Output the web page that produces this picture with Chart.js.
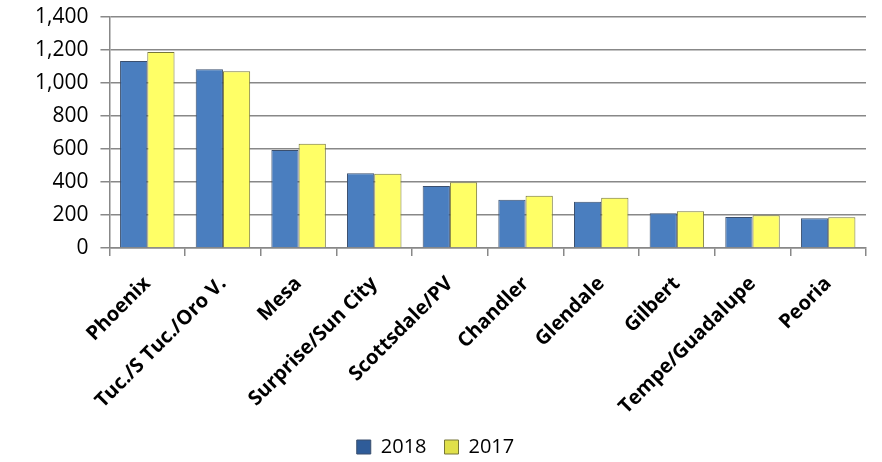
<!DOCTYPE html>
<html>
<head>
<meta charset="utf-8">
<script src="https://cdn.jsdelivr.net/npm/chart.js@4.4.0/dist/chart.umd.min.js"></script>
<style>
  html, body { margin: 0; padding: 0; background: #fff; }
  #wrap { width: 882px; height: 462px; }
</style>
</head>
<body>
<div id="wrap"><canvas id="cities-chart"></canvas></div>
<script>
var categories = ['Phoenix', 'Tuc./S Tuc./Oro V.', 'Mesa', 'Surprise/Sun City', 'Scottsdale/PV',
    'Chandler', 'Glendale', 'Gilbert', 'Tempe/Guadalupe', 'Peoria'];
var values2018 = [1133, 1083, 594, 453, 376, 293, 281, 210, 188, 180];
var values2017 = [1188, 1071, 632, 450, 398, 317, 305, 222, 198, 186];
var yTicks = [0, 200, 400, 600, 800, 1000, 1200, 1400];

function barFill(light, mid, dark) {
    return function (context) {
        var el = context.element;
        var chart = context.chart;
        if (!el || !el.width) {
            return mid;
        }
        var x0 = el.x - el.width / 2;
        var g = chart.ctx.createLinearGradient(x0, 0, x0 + el.width, 0);
        g.addColorStop(0, dark);
        g.addColorStop(0.3, mid);
        g.addColorStop(0.65, light);
        g.addColorStop(1, dark);
        return g;
    };
}

// nudge the legend a little left, like the original
var legendShift = {
    id: 'legendShift',
    afterLayout: function (chart) {
        if (chart.legend) {
            chart.legend.left -= 9;
            chart.legend.right -= 9;
        }
    }
};

var ctx = document.getElementById('cities-chart');
var CitiesChart = new Chart(ctx, {
    type: 'bar',
    data: {
        labels: categories,
        datasets: [{
            label: '2018',
            data: values2018,
            backgroundColor: barFill('#5d93d4', '#4a7ebf', '#2f5c99'),
            borderColor: '#3a4f6e',
            borderWidth: 1
        }, {
            label: '2017',
            data: values2017,
            backgroundColor: barFill('#ffffa0', '#ffff66', '#e0e04a'),
            borderColor: '#77773a',
            borderWidth: 1
        }]
    },
    plugins: [legendShift],
    options: {
        responsive: true,
        maintainAspectRatio: false,
        animation: false,
        datasets: {
            bar: {
                categoryPercentage: 0.72,
                barPercentage: 1.0
            }
        },
        layout: {
            padding: { left: 23, right: 16, top: 0, bottom: -5 }
        },
        plugins: {
            tooltip: { enabled: false },
            legend: {
                position: 'bottom',
                labels: {
                    color: '#000',
                    boxWidth: 14,
                    boxHeight: 14,
                    padding: 18,
                    font: { family: "'Open Sans', 'Liberation Sans', sans-serif", size: 20 }
                }
            }
        },
        scales: {
            x: {
                afterFit: function (axis) {
                    axis.height = 171;
                },
                grid: {
                    offset: true,
                    drawOnChartArea: false,
                    drawTicks: true,
                    tickLength: 8,
                    color: '#888',
                    lineWidth: 1.5
                },
                border: { color: '#888', width: 1.5 },
                ticks: {
                    color: '#000',
                    maxRotation: 45,
                    minRotation: 45,
                    autoSkip: false,
                    padding: 16,
                    font: { family: "'Open Sans', 'Liberation Sans', sans-serif", size: 20, weight: 'bold' }
                }
            },
            y: {
                min: 0,
                max: 1400,
                afterBuildTicks: function (axis) {
                    axis.ticks = yTicks.map(function (v) { return { value: v }; });
                },
                afterFit: function (axis) {
                    axis.paddingTop = 17;
                    axis.paddingBottom = 12;
                },
                grid: {
                    color: '#888',
                    lineWidth: 1.5,
                    tickLength: 9
                },
                border: { color: '#888', width: 1.5 },
                ticks: {
                    color: '#000',
                    padding: 12,
                    font: { family: "'Open Sans', 'Liberation Sans', sans-serif", size: 21 },
                    callback: function (v) { return Number(v).toLocaleString('en-US'); }
                }
            }
        }
    }
});
</script>
</body>
</html>
